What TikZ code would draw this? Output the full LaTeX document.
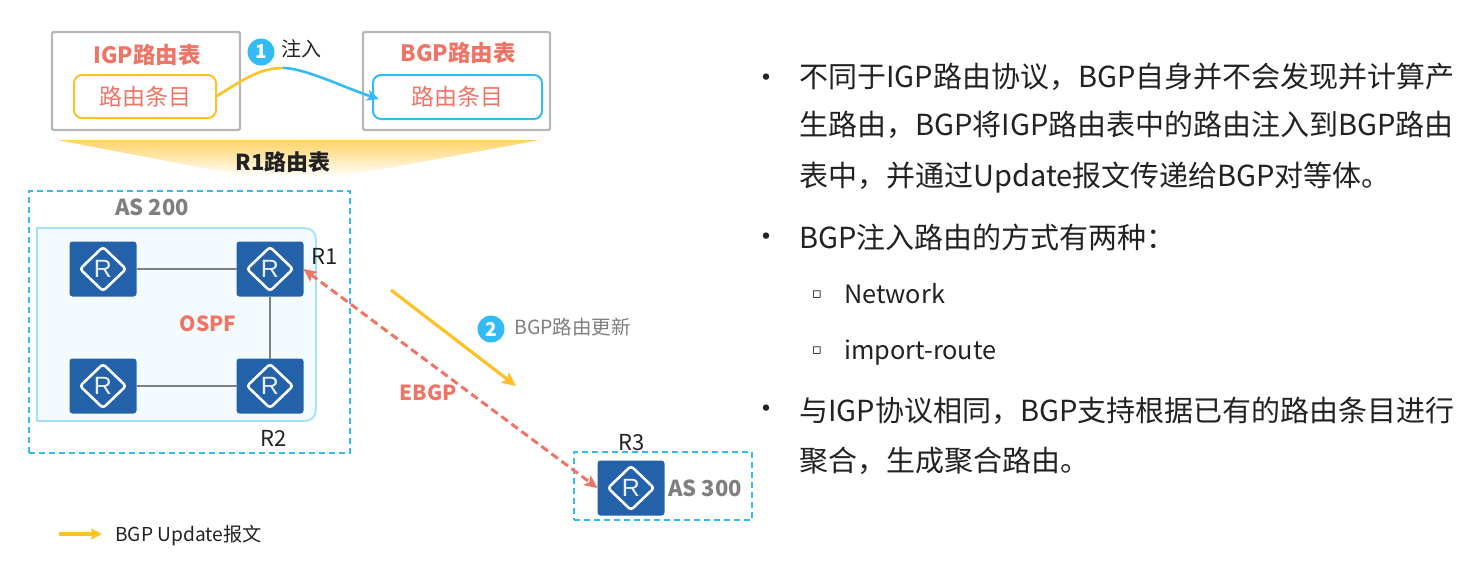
\documentclass[tikz,border=0pt]{standalone}
\usepackage{fontspec}
\setmainfont{Noto Sans CJK SC}
\newfontfamily\rfont{Liberation Sans}
\newfontfamily\symfont{DejaVu Sans}
\usetikzlibrary{arrows.meta,calc}
\definecolor{salmon}{HTML}{EE7566}
\definecolor{skyb}{HTML}{33BBF5}
\definecolor{ambr}{HTML}{FFC125}
\definecolor{rblue}{HTML}{2361A8}
\definecolor{grayt}{HTML}{7F7F7F}
\definecolor{tblack}{HTML}{222222}
\newcommand{\fs}[1]{\fontsize{#1pt}{#1pt}\selectfont}
\tikzset{
 x=1pt,y=-1pt,
 tablebox/.style={draw=black!28,line width=2.4pt,rounded corners=2pt,fill=white,anchor=north west,inner sep=0pt,outer sep=0pt},
 itembox/.style={line width=2pt,rounded corners=8pt,fill=white,anchor=north west,inner sep=0pt,outer sep=0pt,text=salmon,font=\fs{23}},
 salmontext/.style={text=salmon,font=\fs{22.5}\bfseries,inner sep=0pt},
 graylabel/.style={text=grayt,font=\fs{22}\bfseries,inner sep=0pt},
 blacklabel/.style={text=tblack,font=\fs{22},inner sep=0pt},
 numdot/.style={circle,fill=skyb,text=white,font=\fs{19}\bfseries,minimum size=27pt,inner sep=0pt},
 asbox/.style={draw=skyb,line width=1.8pt,dash pattern=on 6pt off 4pt,anchor=north west,inner sep=0pt,outer sep=0pt},
 router/.style={fill=rblue,rounded corners=3pt,minimum width=67pt,minimum height=55pt,inner sep=0pt,outer sep=0pt,text=white!90!rblue,font=\rfont\fs{25},
   path picture={\draw[white,line width=2.6pt,line join=miter] ($(path picture bounding box.center)+(-23,0)$)--($(path picture bounding box.center)+(0,-22)$)--($(path picture bounding box.center)+(23,0)$)--($(path picture bounding box.center)+(0,22)$)--cycle;}},
 link/.style={draw=black!50,line width=2pt},
 bulleta/.style={anchor=center,inner sep=0pt,font=\fs{30},text=tblack},
 subbullet/.style={anchor=center,inner sep=0pt,font=\symfont\fs{15},text=tblack},
 bodyline/.style={anchor=base west,inner sep=0pt,font=\fs{29},text=tblack},
 sublabel/.style={anchor=base west,inner sep=0pt,font=\fs{25.3},text=tblack},
}
\begin{document}
\begin{tikzpicture}
\useasboundingbox (0,0) rectangle (1480,560);
% R1 table band
\shade[top color=ambr!70!white,bottom color=white] (57,140) -- (540,140) -- (340,177) -- (250,177) -- cycle;
\node[text=tblack,font=\fs{22}\bfseries,inner sep=0pt] (r1table) at (283,162) {R1路由表};
% tables
\node[tablebox,minimum width=188pt,minimum height=98pt] (igp) at (52,32) {};
\node[tablebox,minimum width=187pt,minimum height=98pt] (bgp) at (363,32) {};
\node[salmontext] (igpt) at (147,55) {IGP路由表};
\node[salmontext] (bgpt) at (458,53) {BGP路由表};
\node[itembox,draw=ambr,minimum width=142pt,minimum height=43pt] (item1) at (74,75) {路由条目};
\node[itembox,draw=skyb,minimum width=169pt,minimum height=44pt] (item2) at (373,75) {路由条目};
\coordinate (inj) at (283,68);
\coordinate (injend) at (379,99);
\draw[ambr,line width=2.6pt] (item1.east) .. controls (240,82) and (258,68) .. (inj);
\draw[skyb,line width=2.6pt,-{Stealth[length=12pt,width=11pt,inset=3pt]}] (inj) .. controls (305,68) and (345,88) .. (injend);
\node[numdot] (n1) at (261,52) {1};
\node[blacklabel,font=\fs{20}] (inject) at (301,49) {注入};
% AS 200
\node[asbox,minimum width=321pt,minimum height=262pt] (as200) at (29,191) {};
\draw[draw=skyb!45,fill=skyb!6,line width=1.8pt] (37,228) -- (302,228) .. controls (312,228) and (316,232) .. (316,242) -- (316,407) .. controls (316,417) and (312,421) .. (302,421) -- (37,421) -- cycle;
\node[graylabel] (as200t) at (152,207) {AS 200};
\node[router] (ra) at (103,269) {R};
\node[router] (r1) at (270,269) {R};
\node[router] (rb) at (103,386) {R};
\node[router] (r2) at (270,386) {R};
\draw[link] (ra) -- (r1);
\draw[link] (r1) -- (r2);
\draw[link] (rb) -- (r2);
\node[salmontext,font=\fs{20.8}\bfseries] (ospf) at (208,324) {OSPF};
\node[blacklabel] (r1l) at (325,256) {R1};
\node[blacklabel] (r2l) at (274,438) {R2};
% AS 300
\node[asbox,minimum width=178pt,minimum height=68pt] (as300) at (574,452) {};
\node[router] (r3) at (631,488) {R};
\node[blacklabel] (r3l) at (632,443) {R3};
\node[graylabel] (as300t) at (705,488) {AS 300};
% EBGP
\draw[salmon,line width=3pt,dash pattern=on 8pt off 4.5pt,{Stealth[length=13pt,width=12pt,inset=3pt]}-{Stealth[length=13pt,width=12pt,inset=3pt]}] (r1.east) -- (r3.west);
\node[salmontext,font=\fs{20.8}\bfseries] (ebgp) at (428,393) {EBGP};
% update
\coordinate (upa) at (391,290);
\coordinate (upb) at (516,386);
\draw[ambr,line width=3.2pt,-{Stealth[length=14pt,width=13pt,inset=3pt]}] (upa) -- (upb);
\node[numdot] (n2) at (491,329) {2};
\node[text=grayt,font=\fs{19.5},inner sep=0pt,anchor=west] (upd) at (514,327) {BGP路由更新};
% legend
\coordinate (lga) at (59,534);
\coordinate (lgb) at (102,534);
\draw[ambr,line width=3.2pt,-{Stealth[length=11pt,width=11pt,inset=2pt]}] (lga) -- (lgb);
\node[text=tblack,font=\fs{19.2},inner sep=0pt,anchor=west] (lgt) at (115,535.5) {BGP Update报文};
% right text
\node[bulleta] (b1) at (766,81) {•};
\node[bodyline] (t1) at (799,87) {不同于IGP路由协议，BGP自身并不会发现并计算产};
\node[bodyline] (t2) at (799,135) {生路由，BGP将IGP路由表中的路由注入到BGP路由};
\node[bodyline] (t3) at (799,186) {表中，并通过Update报文传递给BGP对等体。};
\node[bulleta] (b2) at (766,240) {•};
\node[bodyline] (t4) at (799,248) {BGP注入路由的方式有两种：};
\node[subbullet] (b3) at (817,295) {▫};
\node[sublabel] (t5) at (844,303) {Network};
\node[subbullet] (b4) at (817,351) {▫};
\node[sublabel] (t6) at (844,359) {import-route};
\node[bulleta] (b5) at (766,412) {•};
\node[bodyline] (t7) at (799,421) {与IGP协议相同，BGP支持根据已有的路由条目进行};
\node[bodyline] (t8) at (799,471) {聚合，生成聚合路由。};
\end{tikzpicture}
\end{document}
